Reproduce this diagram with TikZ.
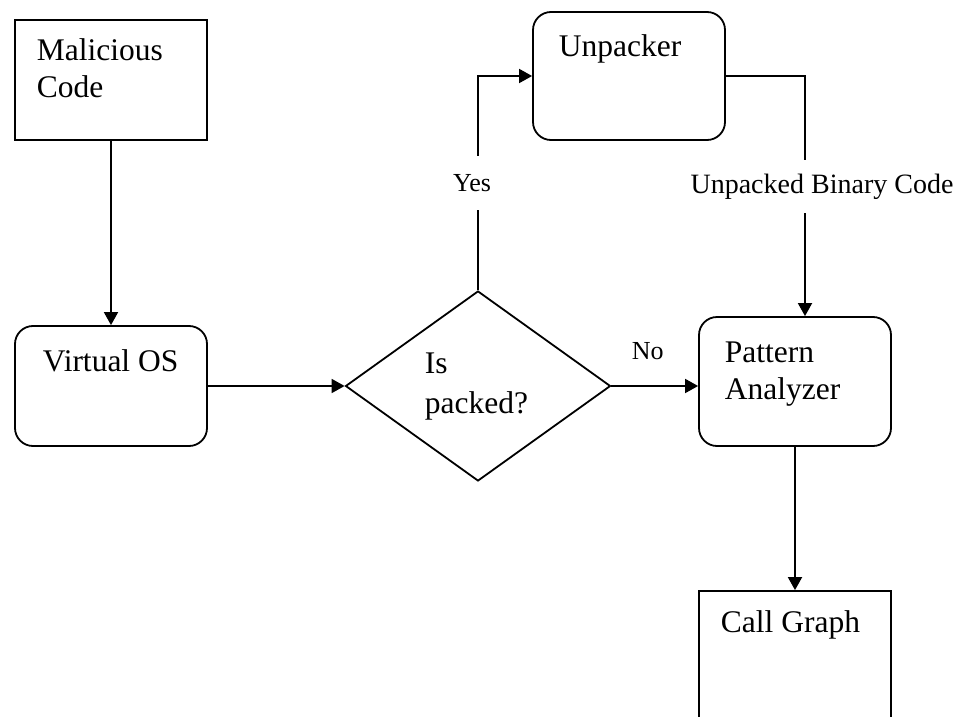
\documentclass[tikz,border=0pt]{standalone}
\usepackage{fontspec}
\setmainfont{Liberation Serif}
\usetikzlibrary{arrows.meta,shapes.geometric}

\begin{document}
\begin{tikzpicture}[x=1pt, y=-1pt, line width=1.8pt,
  >={Triangle[length=13pt,width=14pt]},
  box/.style={draw, rectangle, minimum width=192pt, inner sep=0pt},
  rbox/.style={box, rounded corners=18pt},
  txt/.style={anchor=base west, align=left, inner sep=0pt, font=\fontsize{31.5}{37}\selectfont},
  lbl/.style={fill=white, inner sep=0pt, font=\fontsize{26}{30}\selectfont}]
\useasboundingbox (0,0) rectangle (964,717);

\node[box, minimum height=120pt] (mal) at (111,80) {};
\node[rbox, minimum height=120pt] (vos) at (111,386) {};
\node[draw, diamond, minimum width=265pt, minimum height=190pt, inner sep=0pt] (dec) at (478,386) {};
\node[rbox, minimum height=128pt] (unp) at (629,76) {};
\node[rbox, minimum height=129pt] (pat) at (795,381.5) {};
\node[box, minimum height=150pt] (cg) at (795,666) {};

% multi-line texts are placed by their last baseline
\node[txt] (malT) at (36,98) {Malicious\\Code};
\node[txt] (vosT) at (42,371) {Virtual OS};
\node[txt, font=\fontsize{31.5}{40}\selectfont] (decT) at (424,413) {Is\\packed?};
\node[txt] (unpT) at (558,57) {Unpacker};
\node[txt] (patT) at (724,399) {Pattern\\Analyzer};
\node[txt] (cgT) at (720,632) {Call Graph};

\draw[->] (mal) -- (vos);
\draw[->] (vos.east) -- (dec.west);
\draw[->] (dec.north) |- (unp.west) node[lbl, pos=0.25, xshift=-6pt, inner ysep=18pt] {Yes};
\draw[->] (unp.east) -| ([xshift=10pt]pat.north) node[lbl, pos=0.73, xshift=17pt, inner ysep=14pt, font=\fontsize{28}{32}\selectfont] {Unpacked Binary Code};
\draw[->] (dec.east) -- (dec.east -| pat.west) node[lbl, midway, above=25pt, xshift=-7pt] {No};
\draw[->] (pat) -- (cg);
\end{tikzpicture}
\end{document}
